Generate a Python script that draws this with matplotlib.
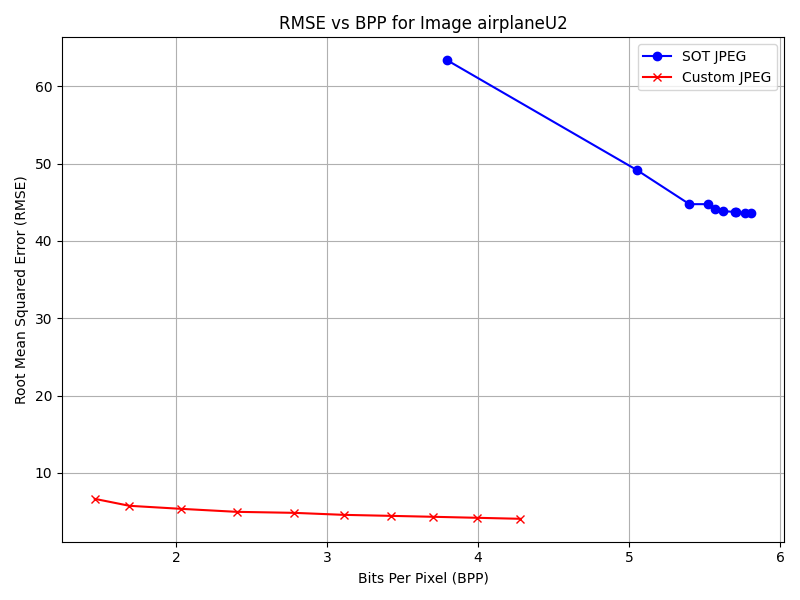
import matplotlib as mpl

mpl.use("Agg")
import matplotlib.pyplot as plt

sot_bpp = [3.795, 5.053, 5.40, 5.52, 5.57, 5.62, 5.70, 5.71, 5.77, 5.81]
sot_rmse = [63.36, 49.15, 44.75, 44.75, 44.1, 43.85, 43.75, 43.7, 43.6, 43.6]
custom_bpp = [1.46, 1.69, 2.03, 2.40, 2.78, 3.11, 3.42, 3.70, 3.99, 4.28]
custom_rmse = [6.64, 5.74, 5.35, 4.96, 4.83, 4.57, 4.44, 4.32, 4.19, 4.06]

fig, ax = plt.subplots(figsize=(8, 6), dpi=100)
ax.plot(sot_bpp, sot_rmse, "b-o", label="SOT JPEG")
ax.plot(custom_bpp, custom_rmse, "r-x", label="Custom JPEG")
ax.set_xlabel("Bits Per Pixel (BPP)")
ax.set_ylabel("Root Mean Squared Error (RMSE)")
ax.set_title("RMSE vs BPP for Image airplaneU2")
ax.legend(loc="upper right")
ax.grid(True)
fig.tight_layout()
fig.savefig("out.png")
